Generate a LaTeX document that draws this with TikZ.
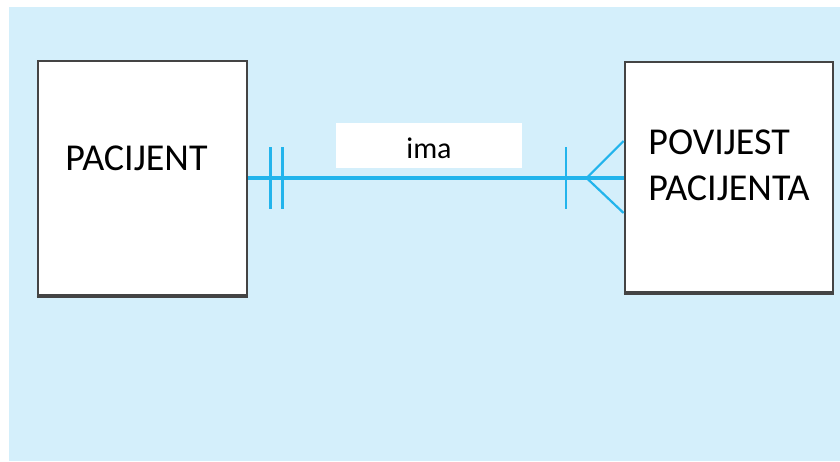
\documentclass[tikz,border=0pt]{standalone}
\usepackage{fontspec}
\setmainfont{Carlito}
\usepackage{tikz}

\definecolor{pozadina}{HTML}{D4EFFB}
\definecolor{veza}{HTML}{22B4EC}
\definecolor{rub}{HTML}{444444}

\tikzset{
  entitet/.style={draw=rub, line width=1.4pt, fill=white, inner sep=0pt},
  naziv/.style={anchor=base west, inner sep=0pt, font=\fontsize{19}{23}\selectfont},
  linija/.style={draw=veza, line width=2pt},
  crtica/.style={draw=veza, line width=1.1pt}
}

\begin{document}
\begin{tikzpicture}[x=0.5pt,y=-0.5pt]
        \useasboundingbox (0,0) rectangle (840,461);
        \fill[pozadina] (9,7) rectangle (840,461);
        \node[entitet, minimum width=104.5pt, minimum height=117pt] (pacijent) at (142.5,178) {};
        \node[entitet, minimum width=104pt, minimum height=115pt] (povijest) at (729,177) {};
        \draw [rub, line width=1pt] ([yshift=-0.5pt]pacijent.south west) -- ([yshift=-0.5pt]pacijent.south east);
        \draw [rub, line width=1pt] ([yshift=-0.5pt]povijest.south west) -- ([yshift=-0.5pt]povijest.south east);
        \node[naziv] (tpacijent) at (65,170) {PACIJENT};
        \node[naziv] (tpovijest) at (648,154) {POVIJEST};
        \node[naziv] (tpacijenta) at (648,200) {PACIJENTA};
        \node[fill=white, minimum width=93pt, minimum height=22.5pt, inner sep=0pt, text depth=0pt, font=\fontsize{15}{17}\selectfont] (ima) at (429,145.5) {\raisebox{-2.5pt}{ima}};
        \draw [linija] (pacijent.east) -- (pacijent.east -| povijest.west);
        \draw [crtica] ([xshift=11pt,yshift=15.5pt]pacijent.east) -- ++(0,-31pt);
        \draw [crtica] ([xshift=17pt,yshift=15.5pt]pacijent.east) -- ++(0,-31pt);
        \draw [crtica] ([xshift=-29pt,yshift=15.5pt]pacijent.east -| povijest.west) -- ++(0,-31pt);
        \draw [crtica] ([yshift=18.5pt]pacijent.east -| povijest.west) -- ([xshift=-18.5pt]pacijent.east -| povijest.west) -- ([yshift=-17.5pt]pacijent.east -| povijest.west);
    \end{tikzpicture}
\end{document}
